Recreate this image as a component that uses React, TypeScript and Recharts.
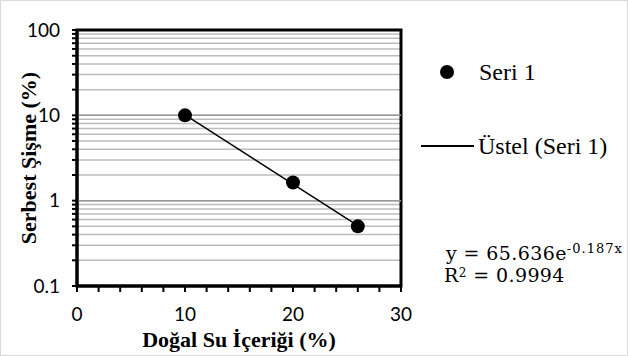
import {
  ComposedChart,
  Scatter,
  Line,
  XAxis,
  YAxis,
  CartesianGrid,
  ReferenceArea,
  ReferenceLine,
  Legend,
} from "recharts";

// measured points
const waterContent = [10, 20, 26];
const swelling = [10, 1.63, 0.5];

// exponential trendline end points
const trendX = [10, 26];
const trendY = [10.1, 0.51];

const xTicks = [0, 2, 4, 6, 8, 10, 12, 14, 16, 18, 20, 22, 24, 26, 28, 30];
const xLabels = [0, 10, 20, 30];
const yTicks = [
  0.1, 0.2, 0.3, 0.4, 0.5, 0.6, 0.7, 0.8, 0.9,
  1, 2, 3, 4, 5, 6, 7, 8, 9,
  10, 20, 30, 40, 50, 60, 70, 80, 90, 100,
];
const yLabels = [0.1, 1, 10, 100];

const points = waterContent.map((x, i) => ({ x, y: swelling[i] }));
const trend = trendX.map((x, i) => ({ x, y: trendY[i] }));

const serif = "'Liberation Serif', serif";
const eqFont = "'DejaVu Serif', serif";
const sans = "Lato, 'Open Sans', sans-serif";

function LegendBox() {
  const txt = { position: "absolute" as const, whiteSpace: "nowrap" as const, lineHeight: "27px" };
  const eq = { ...txt, fontFamily: eqFont, fontSize: 19, lineHeight: "22px", letterSpacing: 0.4 };
  return (
    <div style={{ fontFamily: serif, fontSize: 24, color: "#000", position: "relative", width: 195, height: 240 }}>
      <div style={{ position: "absolute", left: 11, top: 8, width: 14, height: 14, borderRadius: 7, background: "#000" }} />
      <div style={{ ...txt, left: 50, top: 2 }}>Seri 1</div>
      <div style={{ position: "absolute", left: -8, top: 88, width: 53, height: 1.5, background: "#000" }} />
      <div style={{ ...txt, left: 49, top: 76 }}>Üstel (Seri 1)</div>
      <div style={{ ...eq, left: 17, top: 185 }}>
        y = 65.636e
        <span style={{ fontSize: 13, letterSpacing: 1, position: "relative", top: -7 }}>-0.187x</span>
      </div>
      <div style={{ ...eq, left: 15, top: 207 }}>
        R<span style={{ fontSize: 12, position: "relative", top: -5 }}>2</span> = 0.9994
      </div>
    </div>
  );
}

export default function App() {
  return (
    <div
      style={{
        position: "absolute",
        left: 0,
        top: 0,
        width: 626,
        height: 354,
        border: "1px solid #d9d9d9",
        background: "#fff",
      }}
    >
      <ComposedChart width={626} height={354} margin={{ top: 29, right: 226, left: 0, bottom: 0 }}>
        <CartesianGrid horizontal vertical={false} stroke="#bcbcbc" strokeWidth={1.5} />
        <XAxis
          type="number"
          dataKey="x"
          domain={[0, 30]}
          ticks={xTicks}
          interval={0}
          height={69}
          tickSize={6}
          tickMargin={16}
          tickLine={{ stroke: "#000", strokeWidth: 2 }}
          axisLine={{ stroke: "#000", strokeWidth: 3 }}
          tickFormatter={(v: number) => (xLabels.includes(v) ? String(v) : "")}
          tick={{ fontFamily: sans, fontSize: 19, fill: "#000" }}
          label={{
            value: "Doğal Su İçeriği (%)",
            position: "insideBottom",
            offset: 8,
            style: { fontFamily: serif, fontSize: 22, fontWeight: "bold", fill: "#000" },
          }}
        />
        <YAxis
          type="number"
          scale="log"
          domain={[0.1, 100]}
          allowDataOverflow
          ticks={yTicks}
          interval={0}
          width={76}
          tickSize={5}
          tickMargin={12}
          tickLine={{ stroke: "#000", strokeWidth: 2 }}
          axisLine={{ stroke: "#000", strokeWidth: 3 }}
          tickFormatter={(v: number) => (yLabels.includes(v) ? String(v) : "")}
          tick={{ fontFamily: sans, fontSize: 19, fill: "#000" }}
          label={{
            value: "Serbest Şişme (%)",
            angle: -90,
            position: "insideLeft",
            offset: 27,
            style: { textAnchor: "middle", fontFamily: serif, fontSize: 22, fontWeight: "bold", fill: "#000" },
          }}
        />
        <ReferenceLine y={1} stroke="#999" strokeWidth={1.5} />
        <ReferenceLine y={10} stroke="#999" strokeWidth={1.5} />
        <ReferenceArea x1={0} x2={30} y1={0.1} y2={100} fill="none" stroke="#000" strokeWidth={3} ifOverflow="visible" />
        <Line
          data={trend}
          dataKey="y"
          stroke="#000"
          strokeWidth={1.5}
          dot={false}
          legendType="none"
          isAnimationActive={false}
        />
        <Scatter
          data={points}
          dataKey="y"
          fill="#000"
          shape={(p: any) => <circle cx={p.cx} cy={p.cy} r={7} fill="#000" />}
          isAnimationActive={false}
        />
        <Legend
          layout="horizontal"
          verticalAlign="middle"
          content={() => <LegendBox />}
          wrapperStyle={{ left: 428, top: 56, width: 195 }}
        />
      </ComposedChart>
    </div>
  );
}
